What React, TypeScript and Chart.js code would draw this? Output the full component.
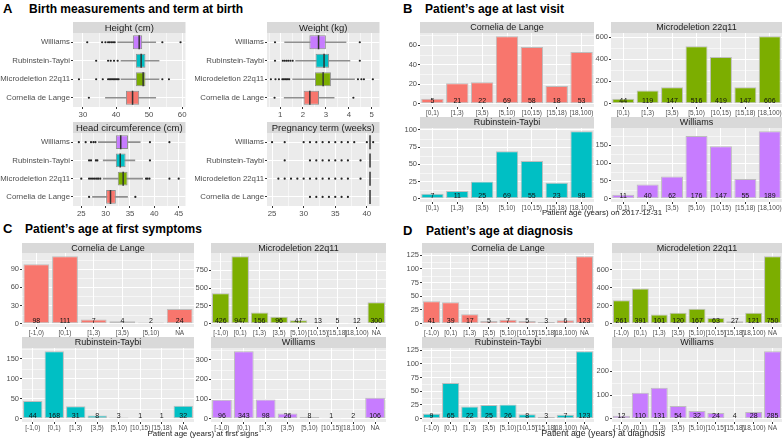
import React, { useEffect, useRef } from 'react';
import { Chart, registerables } from 'chart.js';

Chart.register(...registerables);

const FONT = "'Liberation Sans', Arial, sans-serif";
Chart.defaults.font.family = FONT;

// ---------- colours ----------
const colCdl = '#F8766D';
const colMic = '#7CAE00';
const colRts = '#00BFC4';
const colWil = '#C77CFF';

// ---------- Panel A : box plots ----------
const boxCategories = ['Williams', 'Rubinstein-Taybi', 'Microdeletion 22q11', 'Cornelia de Lange'];
const boxColors = [colWil, colRts, colMic, colCdl];

const heightLow = [40.5, 41.5, 41.5, 36.8];
const heightQ1 = [45.1, 46.0, 46.0, 43.0];
const heightMedian = [47.0, 47.6, 48.2, 45.0];
const heightQ3 = [47.9, 48.9, 48.9, 47.0];
const heightHigh = [52.0, 53.0, 53.0, 52.0];
const heightOutWil = [31.3, 35.8, 36.8, 37.6, 38.1, 38.6, 39.1, 39.6, 54.0, 59.5];
const heightOutRts = [34.0, 37.6, 38.4, 39.4, 40.5];
const heightOutMic = [28.8, 34.0, 36.0, 37.6, 38.0, 38.4, 38.8, 39.2, 39.6, 40.0, 40.4, 40.8, 54.0, 56.0];
const heightOutCdl = [31.8];
const heightTicks = [30, 40, 50, 60];

const weightLow = [1.2, 1.68, 1.55, 1.18];
const weightQ1 = [2.28, 2.55, 2.52, 2.03];
const weightMedian = [2.68, 2.92, 2.88, 2.3];
const weightQ3 = [3.0, 3.14, 3.22, 2.7];
const weightHigh = [3.88, 4.05, 4.25, 3.36];
const weightOutWil = [0.78, 4.48];
const weightOutRts = [0.78, 1.12, 1.2, 1.28, 1.36, 1.45, 1.55, 4.48];
const weightOutMic = [0.6, 0.8, 0.95, 1.1, 1.16, 1.22, 1.28, 1.34, 1.4, 4.4, 4.55, 4.66, 5.05];
const weightOutCdl = [0.76, 4.2];
const weightTicks = [1, 2, 3, 4, 5];

const headLow = [28.5, 29.5, 29.5, 27.3];
const headQ1 = [32.1, 32.1, 32.5, 30.1];
const headMedian = [33.1, 33.0, 33.6, 31.0];
const headQ3 = [34.6, 34.1, 34.5, 32.1];
const headHigh = [37.1, 36.0, 37.6, 34.5];
const headOutWil = [24.5, 25.9, 27.0, 27.5, 27.9, 39.1, 43.1];
const headOutRts = [26.6, 27.0, 28.0, 28.3, 39.1];
const headOutMic = [25.0, 26.6, 27.0, 27.4, 27.8, 28.2, 28.5, 28.9, 38.3, 38.6, 39.0, 43.1, 45.0];
const headOutCdl = [26.6, 36.1];
const headTicks = [25, 30, 35, 40, 45];

const termLow = [40.5, 40.5, 40.5, 40.5];
const termQ1 = [40.5, 40.5, 40.5, 40.5];
const termMedian = [40.5, 40.5, 40.5, 40.5];
const termQ3 = [40.5, 40.5, 40.5, 40.5];
const termHigh = [40.5, 40.5, 40.5, 40.5];
const termOutWil = [25, 27, 30, 31, 32, 33, 34, 35, 36, 37, 38, 40, 41];
const termOutRts = [27, 31, 32, 33, 34, 35, 36, 37, 39];
const termOutMic = [26, 27, 28, 29, 30, 31, 32, 33, 34, 35, 36, 37, 39];
const termOutCdl = [31, 32, 33, 34, 35, 36, 37];
const termTicks = [25, 30, 35, 40];

// ---------- Panel B : age at last visit ----------
const lastCats = ['[0,1)', '[1,3)', '[3,5)', '[5,10)', '[10,15)', '[15,18)', '[18,100)'];
const lastCdl = [5, 21, 22, 69, 58, 18, 53];
const lastMic = [44, 119, 147, 516, 419, 147, 606];
const lastRts = [7, 11, 25, 69, 55, 23, 98];
const lastWil = [11, 40, 62, 176, 147, 55, 189];
const lastTicksCdl = [0, 20, 40, 60];
const lastTicksMic = [0, 200, 400, 600];
const lastTicksRts = [0, 25, 50, 75, 100];
const lastTicksWil = [0, 50, 100, 150];

// ---------- Panel C : age at first symptoms ----------
const firstCatsCdl = ['[-1,0)', '[0,1)', '[1,3)', '[3,5)', '[5,10)', 'NA'];
const firstCatsMic = ['[-1,0)', '[0,1)', '[1,3)', '[3,5)', '[5,10)', '[10,15)', '[15,18)', '[18,100)', 'NA'];
const firstCatsRts = ['[-1,0)', '[0,1)', '[1,3)', '[3,5)', '[5,10)', '[10,15)', '[15,18)', 'NA'];
const firstCatsWil = ['[-1,0)', '[0,1)', '[1,3)', '[3,5)', '[5,10)', '[10,15)', '[18,100)', 'NA'];
const firstCdl = [98, 111, 7, 4, 2, 24];
const firstMic = [426, 947, 156, 96, 47, 13, 5, 12, 300];
const firstRts = [44, 168, 31, 8, 3, 1, 1, 32];
const firstWil = [96, 343, 98, 26, 8, 1, 2, 106];
const firstTicksCdl = [0, 30, 60, 90];
const firstTicksMic = [0, 250, 500, 750];
const firstTicksRts = [0, 50, 100, 150];
const firstTicksWil = [0, 100, 200, 300];

// ---------- Panel D : age at diagnosis ----------
const diagCats = ['[-1,0)', '[0,1)', '[1,3)', '[3,5)', '[5,10)', '[10,15)', '[15,18)', '[18,100)', 'NA'];
const diagCdl = [41, 39, 17, 5, 7, 5, 3, 6, 123];
const diagMic = [261, 391, 101, 120, 167, 63, 27, 121, 750];
const diagRts = [9, 65, 22, 25, 26, 8, 3, 7, 123];
const diagWil = [12, 110, 131, 54, 32, 24, 4, 28, 285];
const diagTicksCdl = [0, 25, 50, 75, 100, 125];
const diagTicksMic = [0, 200, 400, 600];
const diagTicksRts = [0, 25, 50, 75, 100, 125];
const diagTicksWil = [0, 100, 200];

// ---------- helpers ----------
type Rect = { l: number; t: number; r: number; b: number; strip: number; yW: number; xH: number };
const PAD_R = 2;

function minorTicks(ticks: number[], min: number, max: number) {
  const out: number[] = [];
  const step = ticks[1] - ticks[0];
  for (let i = 0; i < ticks.length - 1; i++) out.push((ticks[i] + ticks[i + 1]) / 2);
  const lo = ticks[0] - step / 2;
  if (lo >= min) out.unshift(lo);
  const hi = ticks[ticks.length - 1] + step / 2;
  if (hi <= max) out.push(hi);
  return out;
}

function ggPlugin(title: string, axisId: 'x' | 'y', minors: number[], stripSize: number, labels?: number[]) {
  return {
    id: 'gg',
    beforeDraw(chart: any) {
      const { ctx, chartArea: a } = chart;
      ctx.save();
      ctx.fillStyle = '#EBEBEB';
      ctx.fillRect(a.left, a.top, a.right - a.left, a.bottom - a.top);
      const sc = chart.scales[axisId];
      ctx.strokeStyle = '#F6F6F6';
      ctx.lineWidth = 1;
      ctx.beginPath();
      for (const m of minors) {
        const p = Math.round(sc.getPixelForValue(m)) + 0.5;
        if (axisId === 'y') {
          ctx.moveTo(a.left, p);
          ctx.lineTo(a.right, p);
        } else {
          ctx.moveTo(p, a.top);
          ctx.lineTo(p, a.bottom);
        }
      }
      ctx.stroke();
      ctx.fillStyle = '#D9D9D9';
      ctx.fillRect(a.left, 0, a.right - a.left, a.top);
      ctx.fillStyle = '#1A1A1A';
      ctx.font = `${stripSize}px ${FONT}`;
      ctx.textAlign = 'center';
      ctx.textBaseline = 'middle';
      ctx.fillText(title, (a.left + a.right) / 2, a.top / 2 + 0.5);
      ctx.restore();
    },
    afterDatasetsDraw(chart: any) {
      if (!labels) return;
      const { ctx } = chart;
      const meta = chart.getDatasetMeta(0);
      const y0 = chart.scales.y.getPixelForValue(0);
      ctx.save();
      ctx.font = `7px ${FONT}`;
      ctx.fillStyle = '#111111';
      ctx.textAlign = 'center';
      ctx.textBaseline = 'alphabetic';
      meta.data.forEach((el: any, i: number) => {
        ctx.fillText(String(labels[i]), el.x, y0 - 0.5);
      });
      ctx.restore();
    },
  };
}

const gridCommon = { color: '#FFFFFF', lineWidth: 1, tickColor: '#333333', tickLength: 2, offset: false };

function boxConfig(
  rect: Rect, title: string,
  low: number[], q1: number[], med: number[], q3: number[], high: number[],
  outliers: number[][], range: [number, number], ticks: number[],
) {
  const outlierPoints = outliers.flatMap((arr, i) => arr.map((v) => ({ x: v, y: boxCategories[i] })));
  const medianPoints = med.map((v, i) => ({ x: v, y: boxCategories[i] }));
  return {
    type: 'bar',
    data: {
      labels: boxCategories,
      datasets: [
        {
          type: 'line', indexAxis: 'x', data: medianPoints, showLine: false, pointStyle: 'line', pointRotation: 90,
          pointRadius: 7, pointBorderWidth: 1.5, pointBorderColor: '#333333', pointBackgroundColor: '#333333', order: 0,
        },
        {
          type: 'line', indexAxis: 'x', data: outlierPoints, showLine: false, pointStyle: 'circle', pointRadius: 1.1,
          pointBorderWidth: 0, pointBackgroundColor: '#222222', order: 1,
        },
        {
          type: 'bar', indexAxis: 'y', data: q1.map((v, i) => (v === q3[i] ? null : [v, q3[i]])),
          backgroundColor: boxColors, borderColor: '#8F8F8F', borderWidth: 1, borderSkipped: false,
          grouped: false, categoryPercentage: 1, barPercentage: 0.75, order: 2,
        },
        {
          type: 'bar', indexAxis: 'y', data: low.map((v, i) => (v === high[i] ? null : [v, high[i]])),
          backgroundColor: '#8F8F8F', barThickness: 1, grouped: false, order: 3,
        },
      ],
    },
    options: {
      indexAxis: 'y',
      responsive: false, animation: false, maintainAspectRatio: false,
      layout: { padding: { top: rect.strip, right: PAD_R, left: 0, bottom: 0 } },
      plugins: { legend: { display: false }, tooltip: { enabled: false } },
      scales: {
        x: {
          type: 'linear', position: 'bottom', min: range[0], max: range[1], bounds: 'data', offset: false,
          beginAtZero: false, grace: 0,
          afterBuildTicks: (s: any) => { s.ticks = ticks.map((v) => ({ value: v })); },
          afterFit: (s: any) => { s.height = rect.xH; },
          grid: gridCommon, border: { display: false },
          ticks: { font: { family: FONT, size: 7.8 }, color: '#4D4D4D', padding: 1, maxRotation: 0, callback: (v: any) => String(v) },
        },
        y: {
          type: 'category', position: 'left', offset: true,
          afterFit: (s: any) => { s.width = rect.yW; },
          grid: gridCommon, border: { display: false },
          ticks: { font: { family: FONT, size: 7.8 }, color: '#4D4D4D', padding: 1 },
        },
      },
    },
    plugins: [ggPlugin(title, 'x', minorTicks(ticks, range[0], range[1]), 9.5)],
  };
}

function barConfig(rect: Rect, title: string, cats: string[], vals: number[], color: string, ticks: number[]) {
  const mx = Math.max(...vals);
  const min = -0.05 * mx;
  const max = 1.05 * mx;
  return {
    type: 'bar',
    data: {
      labels: cats,
      datasets: [
        {
          data: vals, backgroundColor: color, borderColor: '#BDBDBD', borderWidth: 1, borderSkipped: false,
          categoryPercentage: 1, barPercentage: 0.9,
        },
      ],
    },
    options: {
      responsive: false, animation: false, maintainAspectRatio: false,
      layout: { padding: { top: rect.strip, right: PAD_R, left: 0, bottom: 0 } },
      plugins: { legend: { display: false }, tooltip: { enabled: false } },
      scales: {
        x: {
          type: 'category', position: 'bottom', offset: true,
          afterFit: (s: any) => { s.height = rect.xH; },
          grid: gridCommon, border: { display: false },
          ticks: { font: { family: FONT, size: 6.5 }, color: '#4D4D4D', padding: 0, autoSkip: false, maxRotation: 0, minRotation: 0 },
        },
        y: {
          type: 'linear', position: 'left', min, max, bounds: 'data', offset: false,
          afterBuildTicks: (s: any) => { s.ticks = ticks.map((v) => ({ value: v })); },
          afterFit: (s: any) => { s.width = rect.yW; },
          grid: gridCommon, border: { display: false },
          ticks: { font: { family: FONT, size: 7.5 }, color: '#4D4D4D', padding: 1, callback: (v: any) => String(v) },
        },
      },
    },
    plugins: [ggPlugin(title, 'y', minorTicks(ticks, min, max), 9, vals)],
  };
}

function Facet({ rect, make }: { rect: Rect; make: (r: Rect) => any }) {
  const ref = useRef<HTMLCanvasElement>(null);
  const w = rect.r - rect.l + rect.yW + PAD_R;
  const h = rect.b - rect.t + rect.strip + rect.xH;
  useEffect(() => {
    const chart = new Chart(ref.current as HTMLCanvasElement, make(rect));
    return () => chart.destroy();
  }, []);
  return (
    <canvas
      ref={ref}
      width={w}
      height={h}
      style={{ position: 'absolute', left: rect.l - rect.yW, top: rect.t - rect.strip, width: w, height: h }}
    />
  );
}

function Label({ x, baseline, size, bold, text, center, color }: {
  x: number; baseline: number; size: number; bold?: boolean; text: string; center?: boolean; color?: string;
}) {
  const top = baseline - 0.8465 * size;
  const style: any = {
    position: 'absolute', top, fontFamily: FONT, fontSize: size, lineHeight: `${size}px`,
    fontWeight: bold ? 700 : 400, color: color || '#000000', whiteSpace: 'nowrap',
  };
  if (center) {
    style.left = x - 200;
    style.width = 400;
    style.textAlign = 'center';
  } else {
    style.left = x;
  }
  return <div style={style}>{text}</div>;
}

// facet rectangles (plot area edges, strip height, axis sizes)
const rA1: Rect = { l: 73, r: 192, t: 33, b: 107, strip: 11, yW: 73, xH: 12 };
const rA2: Rect = { l: 267, r: 386, t: 33, b: 107, strip: 11, yW: 72, xH: 12 };
const rA3: Rect = { l: 73, r: 192, t: 133, b: 206, strip: 11, yW: 73, xH: 12 };
const rA4: Rect = { l: 267, r: 386, t: 133, b: 206, strip: 11, yW: 72, xH: 12 };

const rB1: Rect = { l: 420, r: 594, t: 33, b: 107, strip: 11, yW: 20, xH: 10 };
const rB2: Rect = { l: 611, r: 782, t: 33, b: 107, strip: 11, yW: 22, xH: 10 };
const rB3: Rect = { l: 420, r: 594, t: 128, b: 202, strip: 11, yW: 20, xH: 10 };
const rB4: Rect = { l: 611, r: 782, t: 128, b: 202, strip: 11, yW: 22, xH: 10 };

const rC1: Rect = { l: 22, r: 194, t: 253, b: 327, strip: 10, yW: 20, xH: 10 };
const rC2: Rect = { l: 211, r: 386, t: 253, b: 327, strip: 10, yW: 20, xH: 10 };
const rC3: Rect = { l: 22, r: 194, t: 348, b: 422, strip: 11, yW: 20, xH: 10 };
const rC4: Rect = { l: 211, r: 386, t: 348, b: 422, strip: 11, yW: 20, xH: 10 };

const rD1: Rect = { l: 422, r: 594, t: 253, b: 327, strip: 10, yW: 22, xH: 10 };
const rD2: Rect = { l: 612, r: 782, t: 253, b: 327, strip: 10, yW: 22, xH: 10 };
const rD3: Rect = { l: 422, r: 594, t: 348, b: 422, strip: 11, yW: 22, xH: 10 };
const rD4: Rect = { l: 612, r: 782, t: 348, b: 422, strip: 11, yW: 22, xH: 10 };

export default function App() {
  return (
    <div style={{ position: 'absolute', left: 0, top: 0, width: 784, height: 439, background: '#FFFFFF', overflow: 'hidden' }}>
      <Label x={3} baseline={13.3} size={13} bold text="A" />
      <Label x={29} baseline={13.3} size={12} bold text="Birth measurements and term at birth" />
      <Label x={403} baseline={12.7} size={13} bold text="B" />
      <Label x={425} baseline={12.7} size={12} bold text="Patient’s age at last visit" />
      <Label x={3} baseline={233} size={13} bold text="C" />
      <Label x={25} baseline={233} size={12} bold text="Patient’s age at first symptoms" />
      <Label x={403} baseline={235} size={13} bold text="D" />
      <Label x={426} baseline={235} size={12} bold text="Patient’s age at diagnosis" />

      <Facet rect={rA1} make={(r) => boxConfig(r, 'Height (cm)', heightLow, heightQ1, heightMedian, heightQ3, heightHigh,
        [heightOutWil, heightOutRts, heightOutMic, heightOutCdl], [27, 61], heightTicks)} />
      <Facet rect={rA2} make={(r) => boxConfig(r, 'Weight (kg)', weightLow, weightQ1, weightMedian, weightQ3, weightHigh,
        [weightOutWil, weightOutRts, weightOutMic, weightOutCdl], [0.43, 5.34], weightTicks)} />
      <Facet rect={rA3} make={(r) => boxConfig(r, 'Head circumference (cm)', headLow, headQ1, headMedian, headQ3, headHigh,
        [headOutWil, headOutRts, headOutMic, headOutCdl], [23.3, 46.4], headTicks)} />
      <Facet rect={rA4} make={(r) => boxConfig(r, 'Pregnancy term (weeks)', termLow, termQ1, termMedian, termQ3, termHigh,
        [termOutWil, termOutRts, termOutMic, termOutCdl], [24.2, 42], termTicks)} />

      <Facet rect={rB1} make={(r) => barConfig(r, 'Cornelia de Lange', lastCats, lastCdl, colCdl, lastTicksCdl)} />
      <Facet rect={rB2} make={(r) => barConfig(r, 'Microdeletion 22q11', lastCats, lastMic, colMic, lastTicksMic)} />
      <Facet rect={rB3} make={(r) => barConfig(r, 'Rubinstein-Taybi', lastCats, lastRts, colRts, lastTicksRts)} />
      <Facet rect={rB4} make={(r) => barConfig(r, 'Williams', lastCats, lastWil, colWil, lastTicksWil)} />

      <Facet rect={rC1} make={(r) => barConfig(r, 'Cornelia de Lange', firstCatsCdl, firstCdl, colCdl, firstTicksCdl)} />
      <Facet rect={rC2} make={(r) => barConfig(r, 'Microdeletion 22q11', firstCatsMic, firstMic, colMic, firstTicksMic)} />
      <Facet rect={rC3} make={(r) => barConfig(r, 'Rubinstein-Taybi', firstCatsRts, firstRts, colRts, firstTicksRts)} />
      <Facet rect={rC4} make={(r) => barConfig(r, 'Williams', firstCatsWil, firstWil, colWil, firstTicksWil)} />

      <Facet rect={rD1} make={(r) => barConfig(r, 'Cornelia de Lange', diagCats, diagCdl, colCdl, diagTicksCdl)} />
      <Facet rect={rD2} make={(r) => barConfig(r, 'Microdeletion 22q11', diagCats, diagMic, colMic, diagTicksMic)} />
      <Facet rect={rD3} make={(r) => barConfig(r, 'Rubinstein-Taybi', diagCats, diagRts, colRts, diagTicksRts)} />
      <Facet rect={rD4} make={(r) => barConfig(r, 'Williams', diagCats, diagWil, colWil, diagTicksWil)} />

      <Label x={602} baseline={216} size={7.9} center color="#222222" text="Patient age (years) on 2017-12-31" />
      <Label x={203} baseline={436.5} size={7.9} center color="#222222" text="Patient age (years) at first signs" />
      <Label x={603} baseline={436} size={8.8} center color="#222222" text="Patient age (years) at diagnosis" />
    </div>
  );
}
